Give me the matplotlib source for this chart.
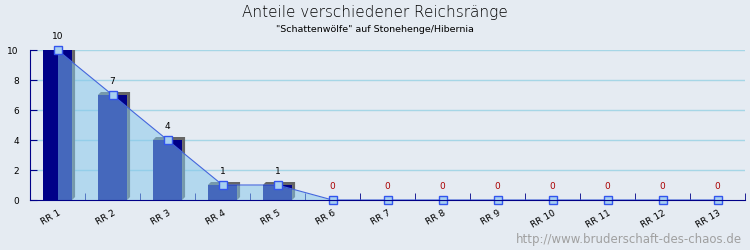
import matplotlib.pyplot as plt
import numpy as np
from matplotlib.patches import Polygon

categories = ['RR 1', 'RR 2', 'RR 3', 'RR 4', 'RR 5', 'RR 6', 'RR 7',
              'RR 8', 'RR 9', 'RR 10', 'RR 11', 'RR 12', 'RR 13']
values = [10, 7, 4, 1, 1, 0, 0, 0, 0, 0, 0, 0, 0]
yticks = [0, 2, 4, 6, 8, 10]

bg = '#e5ebf2'
fig = plt.figure(figsize=(7.5, 2.5), dpi=100, facecolor=bg)
ax = fig.add_axes([30/750, 0.2, 715/750, 0.6], facecolor=bg)

x = np.arange(len(categories))
w = 0.53
dx = 3/55  # 3d depth in data units
dy = 0.2

##grid
for t in yticks[1:]:
    ax.axhline(t, color='#a6d6e6', lw=1, zorder=0)

##bars with a fake 3d lid and side
for xi, v in zip(x, values):
    if v <= 0:
        continue
    ax.bar(xi, v, width=w, color='#000088', zorder=2)
    l, r = xi - w/2, xi + w/2
    top = Polygon([(l, v), (l+dx, v+dy), (r+dx, v+dy), (r+dx, dy), (r, 0), (r, v)],
                  closed=True, facecolor='#666666', edgecolor='none', zorder=1.9)
    ax.add_patch(top)

##area over the bars
ax.fill_between(x, values, 0, color='#85c8ec', alpha=0.52, lw=0, zorder=3)
ax.plot(x, values, color='#4466dd', lw=0.8, zorder=4,
        marker='s', markersize=5.5, markerfacecolor='#a8d0f0',
        markeredgecolor='#3355ee', markeredgewidth=1, clip_on=False)

##value labels
for xi, v in zip(x, values):
    c = 'black' if v > 0 else '#aa0000'
    ax.annotate(str(v), (xi, v), xytext=(0, 9.5), textcoords='offset points',
                ha='center', va='center', fontsize=6.5, color=c, zorder=5)

ax.set_xlim(-0.5, len(categories) - 0.5)
ax.set_ylim(0, 10)
ax.set_yticks(yticks)
ax.set_yticklabels([str(t) for t in yticks], fontsize=6.5)
ax.tick_params(axis='y', direction='in', length=5, color='#000088', pad=8)
ax.set_xticks(x)
ax.set_xticklabels(categories, fontsize=6.5, rotation=30, ha='right',
                   rotation_mode='anchor')
ax.tick_params(axis='x', which='major', length=0, pad=6)
ax.set_xticks(list(np.arange(len(categories)) + 0.5), minor=True)
ax.tick_params(axis='x', which='minor', direction='in', length=5, color='#000088')

for s in ['top', 'right']:
    ax.spines[s].set_visible(False)
ax.spines['left'].set_color('#000088')
ax.spines['bottom'].set_color('#000088')
ax.spines['bottom'].set_zorder(6)

fig.text(0.5, 1 - 12/250, 'Anteile verschiedener Reichsränge', ha='center',
         va='center', fontsize=11, color='black', fontweight='light')
fig.text(0.5, 1 - 30/250, '"Schattenwölfe" auf Stonehenge/Hibernia', ha='center',
         va='center', fontsize=6.8, color='black')
fig.text(742/750, 1 - 240/250, 'http://www.bruderschaft-des-chaos.de', ha='right',
         va='center', fontsize=8.5, color='#a0a0a0')

fig.savefig('out.png', dpi=100, facecolor=bg)
